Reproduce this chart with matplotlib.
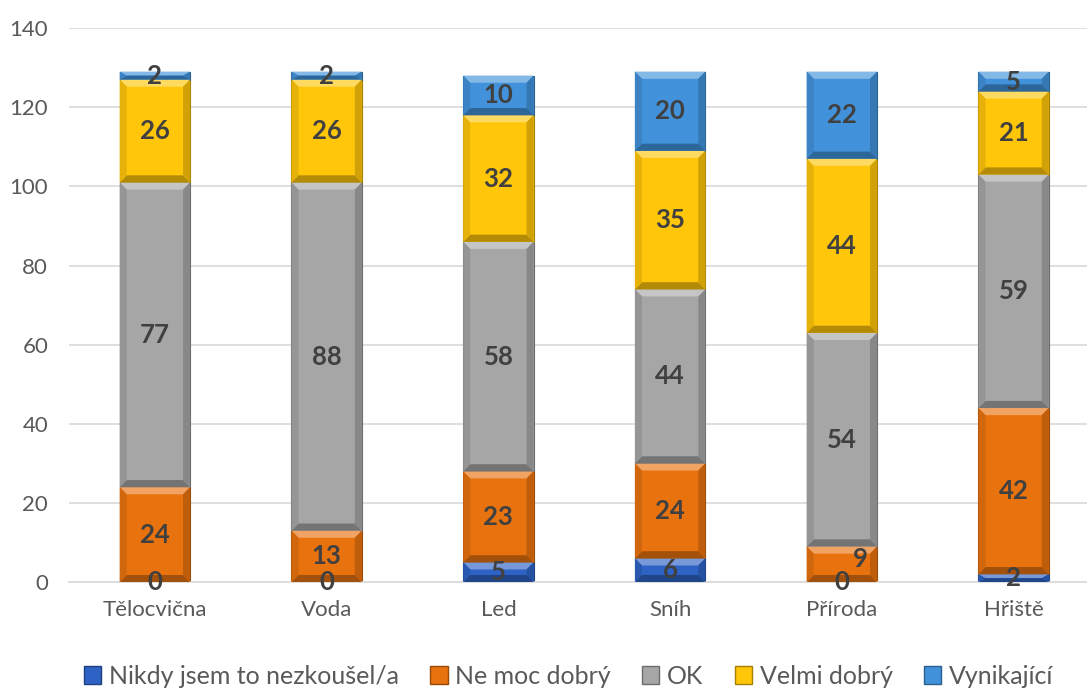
import numpy as np
import matplotlib.pyplot as plt
import matplotlib.colors as mcolors
from matplotlib.patches import Polygon, Patch

plt.rcParams['font.family'] = ['Lato', 'DejaVu Sans']

categories = ['Tělocvična', 'Voda', 'Led', 'Sníh', 'Příroda', 'Hřiště']
series_names = ['Nikdy jsem to nezkoušel/a', 'Ne moc dobrý', 'OK', 'Velmi dobrý', 'Vynikající']
nikdy = [0, 0, 5, 6, 0, 2]
ne_moc = [24, 13, 23, 24, 9, 42]
ok = [77, 88, 58, 44, 54, 59]
velmi = [26, 26, 32, 35, 44, 21]
vynik = [2, 2, 10, 20, 22, 5]
colors = ['#2E62C4', '#E8720E', '#A6A6A6', '#FFC60A', '#4192DA']

series = [nikdy, ne_moc, ok, velmi, vynik]

# labels pushed aside so they don't sit on the neighbouring "0"
label_nudge = {(1, 4): (13, 4)}


def shade(c, f):
    r, g, b = mcolors.to_rgb(c)
    if f > 0:
        return (r + (1 - r) * f, g + (1 - g) * f, b + (1 - b) * f)
    return (r * (1 + f), g * (1 + f), b * (1 + f))


def bevel_bar(ax, x, bottom, h, w, color):
    # plain bar plus light top / dark bottom edges for a bevel look
    if h <= 0:
        return
    ax.bar(x, h, w, bottom, color=color, edgecolor=shade(color, -0.35),
           linewidth=0.8, zorder=2)
    bx = w * 0.1
    by = min(1.8, h / 2)
    l, r = x - w / 2, x + w / 2
    t = bottom + h
    faces = [
        ([(l, t), (r, t), (r - bx, t - by), (l + bx, t - by)], shade(color, 0.35)),
        ([(l, bottom), (r, bottom), (r - bx, bottom + by), (l + bx, bottom + by)], shade(color, -0.3)),
        ([(l, bottom), (l, t), (l + bx, t - by), (l + bx, bottom + by)], shade(color, -0.1)),
        ([(r, bottom), (r, t), (r - bx, t - by), (r - bx, bottom + by)], shade(color, -0.18)),
    ]
    for pts, fc in faces:
        ax.add_patch(Polygon(pts, closed=True, facecolor=fc, edgecolor='none', zorder=3))


fig = plt.figure(figsize=(10.87, 6.93), dpi=100)
ax = fig.add_axes([0.0635, 0.160, 0.948, 0.7994])

xs = np.arange(len(categories))
width = 0.41
bottoms = np.zeros(len(categories))
for si, (vals, col) in enumerate(zip(series, colors)):
    for ci, (x, b, v) in enumerate(zip(xs, bottoms, vals)):
        bevel_bar(ax, x, b, v, width, col)
        dx, dy = label_nudge.get((si, ci), (0, 0))
        ax.annotate(str(v), (x, b + v / 2), xytext=(dx, dy), textcoords='offset points',
                    ha='center', va='center', fontsize=18.5, fontweight='bold',
                    color='#404040', zorder=5)
    bottoms += np.array(vals)

ax.set_xlim(-0.5, len(categories) - 0.5)
ax.set_ylim(0, 140)
ax.set_yticks(range(0, 141, 20))
ax.set_xticks(xs)
ax.set_xticklabels(categories)
ax.tick_params(axis='both', length=0, labelsize=16, colors='#595959')
ax.tick_params(axis='x', pad=13)
ax.tick_params(axis='y', pad=15)
ax.yaxis.grid(True, color='#D9D9D9', linewidth=1.2, zorder=0)
ax.set_axisbelow(True)
for s in ['top', 'right', 'left']:
    ax.spines[s].set_visible(False)
ax.spines['bottom'].set_color('#D9D9D9')
ax.spines['bottom'].set_linewidth(1.2)

handles = [Patch(facecolor=c, edgecolor=shade(c, -0.35)) for c in colors]
fig.legend(handles, series_names, loc='lower center', ncol=5,
           bbox_to_anchor=(0.523, -0.025), frameon=False, fontsize=18,
           labelcolor='#595959', handlelength=0.7, handleheight=0.7,
           handletextpad=0.3, columnspacing=1.25)

fig.savefig('out.png', dpi=100)
